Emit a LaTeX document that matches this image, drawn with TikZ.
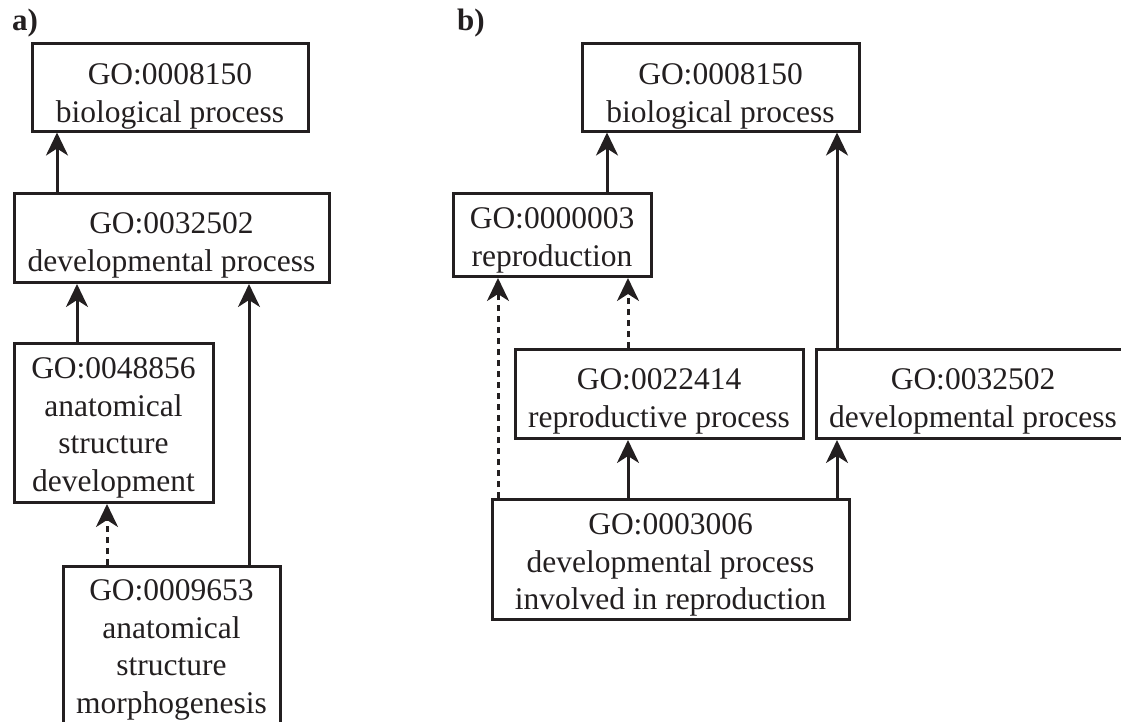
\documentclass[tikz,border=0pt]{standalone}
\usepackage{fontspec}
\setmainfont{Liberation Serif}
\usetikzlibrary{arrows.meta}
\definecolor{ink}{RGB}{35,31,32}
\newcommand{\topstrut}[1]{\rule{0pt}{#1pt}}
\newcommand{\botstrut}[1]{\rule[-#1pt]{0pt}{#1pt}}
\begin{document}
\begin{tikzpicture}[x=1pt,y=-1pt,
  gobox/.style={draw=ink, line width=3pt, text=ink, align=center, inner xsep=0pt, inner ysep=0pt,
    anchor=north, font=\fontsize{31.5}{37.5}\selectfont},
  arr/.style={draw=ink, line width=3pt, -{Stealth[length=23pt,width=22pt,inset=7pt]}},
  dsh/.style={arr, dash pattern=on 6pt off 5pt},
  lab/.style={text=ink, anchor=base west, inner sep=0pt, font=\fontsize{31}{33}\selectfont\bfseries}]
\useasboundingbox (0,0) rectangle (1121,721);
\clip (0,0) rectangle (1121,721);
% panel a
\node[lab] (la) at (12,30) {a)};
\node[gobox, minimum width=276pt] (A1) at (170,42) {\topstrut{41}GO:0008150\\biological process\botstrut{9}};
\node[gobox, minimum width=315pt] (A2) at (171.5,192) {\topstrut{40}GO:0032502\\developmental process\botstrut{11.5}};
\node[gobox, minimum width=199pt] (A3) at (113.5,342) {\topstrut{35}GO:0048856\\anatomical\\structure\\development\botstrut{11.5}};
\node[gobox, minimum width=217pt] (A4) at (171.5,565) {\topstrut{34}GO:0009653\\anatomical\\structure\\morphogenesis\botstrut{15}};
\coordinate (xa) at (57,0);
\coordinate (xb) at (77,0);
\coordinate (xc) at (249,0);
\coordinate (xd) at (107,0);
\draw[arr] (xa |- A2.north) -- (xa |- A1.south);
\draw[arr] (xb |- A3.north) -- (xb |- A2.south);
\draw[arr] (xc |- A4.north) -- (xc |- A2.south);
\draw[dsh] (xd |- A4.north) -- (xd |- A3.south);
% panel b
\node[lab] (lb) at (457,30) {b)};
\node[gobox, minimum width=277pt] (B1) at (720.5,42) {\topstrut{41}GO:0008150\\biological process\botstrut{9}};
\node[gobox, minimum width=198pt] (B2) at (552,192) {\topstrut{35}GO:0000003\\reproduction\botstrut{10.5}};
\node[gobox, minimum width=288pt] (B3) at (659,348) {\topstrut{40}GO:0022414\\reproductive process\botstrut{11.5}};
\node[gobox, minimum width=314pt] (B5) at (973,348) {\topstrut{40}GO:0032502\\developmental process\botstrut{11.5}};
\node[gobox, minimum width=357pt] (B4) at (670.5,498) {\topstrut{35}GO:0003006\\developmental process\\involved in reproduction\botstrut{10}};
\coordinate (xe) at (607,0);
\coordinate (xf) at (837,0);
\coordinate (xg) at (628,0);
\coordinate (xh) at (498,0);
\draw[arr] (xe |- B2.north) -- (xe |- B1.south);
\draw[arr] (xf |- B5.north) -- (xf |- B1.south);
\draw[dsh] (xg |- B3.north) -- (xg |- B2.south);
\draw[dsh] (xh |- B4.north) -- (xh |- B2.south);
\draw[arr] (xg |- B4.north) -- (xg |- B3.south);
\draw[arr] (xf |- B4.north) -- (xf |- B5.south);
\end{tikzpicture}
\end{document}
